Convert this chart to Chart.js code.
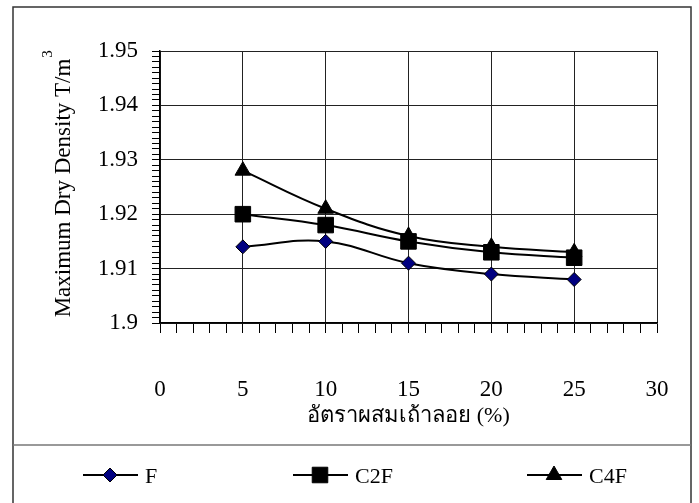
<!DOCTYPE html>
<html>
<head>
<meta charset="utf-8">
<script src="https://cdn.jsdelivr.net/npm/chart.js@4/dist/chart.umd.min.js"></script>
<style>
  html, body { margin: 0; padding: 0; background: #fff; }
  #wrap { width: 699px; height: 503px; }
</style>
</head>
<body>
<div id="wrap"><canvas id="chart" width="699" height="503"></canvas></div>
<script>
var FONT = "'Liberation Serif', 'Times New Roman', serif";

var fly_ash = [5, 10, 15, 20, 25];
var F_vals   = [1.914, 1.915, 1.911, 1.909, 1.908];
var C2F_vals = [1.920, 1.918, 1.915, 1.913, 1.912];
var C4F_vals = [1.928, 1.921, 1.916, 1.914, 1.913];
var series_names = ['F', 'C2F', 'C4F'];

var x_title = 'อัตราผสมเถ้าลอย (%)';
var y_title = 'Maximum Dry Density T/m';

function pts(vals) {
    var out = [];
    for (var i = 0; i < fly_ash.length; i++) out.push({x: fly_ash[i], y: vals[i]});
    return out;
}

function isMajorY(v) { return Math.round(v * 1000) % 10 === 0; }
function isMajorX(v) { return Math.round(v) % 5 === 0; }

// outer frame, legend box, axis titles and legend entries
var decor = {
    id: 'decor',
    beforeDraw: function (chart) {
        var c = chart.ctx;
        c.save();
        c.fillStyle = '#fff';
        c.fillRect(0, 0, chart.width, chart.height);
        c.restore();
    },
    afterDraw: function (chart) {
        var c = chart.ctx;
        var a = chart.chartArea;
        c.save();
        c.strokeStyle = '#333';
        c.lineWidth = 1.5;
        c.strokeRect(13, 7, 678, 500);
        c.strokeStyle = '#777';
        c.beginPath();
        c.moveTo(13, 445); c.lineTo(691, 445);
        c.stroke();

        // x title
        c.fillStyle = '#000';
        c.font = '22px ' + FONT;
        c.textAlign = 'center';
        c.textBaseline = 'middle';
        c.fillText(x_title, (a.left + a.right) / 2, 416);

        // y title (rotated) with superscript 3
        c.save();
        c.translate(64, 188);
        c.rotate(-Math.PI / 2);
        c.font = '23px ' + FONT;
        c.fillText(y_title, 0, 0);
        var w = c.measureText(y_title).width;
        c.font = '15px ' + FONT;
        c.textAlign = 'left';
        c.fillText('3', w / 2 + 1, -16);
        c.restore();

        // legend: line + marker + label for each dataset
        var starts = [83, 293, 527];
        var ly = 475;
        chart.data.datasets.forEach(function (ds, i) {
            var x0 = starts[i];
            c.strokeStyle = ds.borderColor;
            c.lineWidth = 2;
            c.beginPath();
            c.moveTo(x0, ly); c.lineTo(x0 + 55, ly);
            c.stroke();
            c.fillStyle = ds.pointBackgroundColor;
            c.strokeStyle = ds.pointBorderColor;
            c.lineWidth = ds.pointBorderWidth;
            Chart.helpers.drawPoint(c, {
                pointStyle: ds.pointStyle,
                radius: ds.pointRadius,
                rotation: 0,
                borderWidth: ds.pointBorderWidth
            }, x0 + 27, ly);
            c.fillStyle = '#000';
            c.font = '22px ' + FONT;
            c.textAlign = 'left';
            c.textBaseline = 'middle';
            c.fillText(ds.label, x0 + 62, ly + 2);
        });
        c.restore();
    }
};

var datasets = [
    {label: series_names[0], data: pts(F_vals), pointStyle: 'rectRot', pointRadius: 7,
     pointBackgroundColor: '#000080', pointBorderColor: '#000', pointBorderWidth: 1},
    {label: series_names[1], data: pts(C2F_vals), pointStyle: 'rect', pointRadius: 11,
     pointBackgroundColor: '#000', pointBorderColor: '#000', pointBorderWidth: 1},
    {label: series_names[2], data: pts(C4F_vals), pointStyle: 'triangle', pointRadius: 9,
     pointBackgroundColor: '#000', pointBorderColor: '#000', pointBorderWidth: 1}
];
datasets.forEach(function (d) {
    d.borderColor = '#000';
    d.borderWidth = 2;
    d.tension = 0.4;
    d.fill = false;
    d.pointHoverRadius = d.pointRadius;
});

new Chart(document.getElementById('chart').getContext('2d'), {
    type: 'line',
    data: {datasets: datasets},
    plugins: [decor],
    options: {
        responsive: false,
        animation: false,
        layout: {padding: {left: 100, top: 51, right: 42, bottom: 100}},
        plugins: {legend: {display: false}, tooltip: {enabled: false}},
        scales: {
            x: {
                type: 'linear', min: 0, max: 30,
                afterFit: function (s) { s.height = 80; s.paddingLeft = 0; s.paddingRight = 0; },
                ticks: {
                    stepSize: 1, autoSkip: false, maxRotation: 0, padding: 43,
                    color: '#000', font: {family: FONT, size: 23},
                    callback: function (v) { return isMajorX(v) ? String(v) : ''; }
                },
                grid: {
                    tickLength: 10,
                    lineWidth: 1,
                    color: function (ctx) { return ctx.tick && isMajorX(ctx.tick.value) ? '#222' : 'rgba(0,0,0,0)'; },
                    tickColor: '#000'
                },
                border: {color: '#000', width: 1.5}
            },
            y: {
                min: 1.9, max: 1.95,
                afterFit: function (s) { s.width = 60; s.paddingTop = 0; s.paddingBottom = 0; },
                ticks: {
                    stepSize: 0.001, autoSkip: false, padding: 14,
                    color: '#000', font: {family: FONT, size: 23},
                    callback: function (v) { return isMajorY(v) ? String(Number(v.toFixed(2))) : ''; }
                },
                grid: {
                    tickLength: 8,
                    lineWidth: 1,
                    color: function (ctx) { return ctx.tick && isMajorY(ctx.tick.value) ? '#222' : 'rgba(0,0,0,0)'; },
                    tickColor: '#000'
                },
                border: {color: '#000', width: 1.5}
            }
        }
    }
});
</script>
</body>
</html>
